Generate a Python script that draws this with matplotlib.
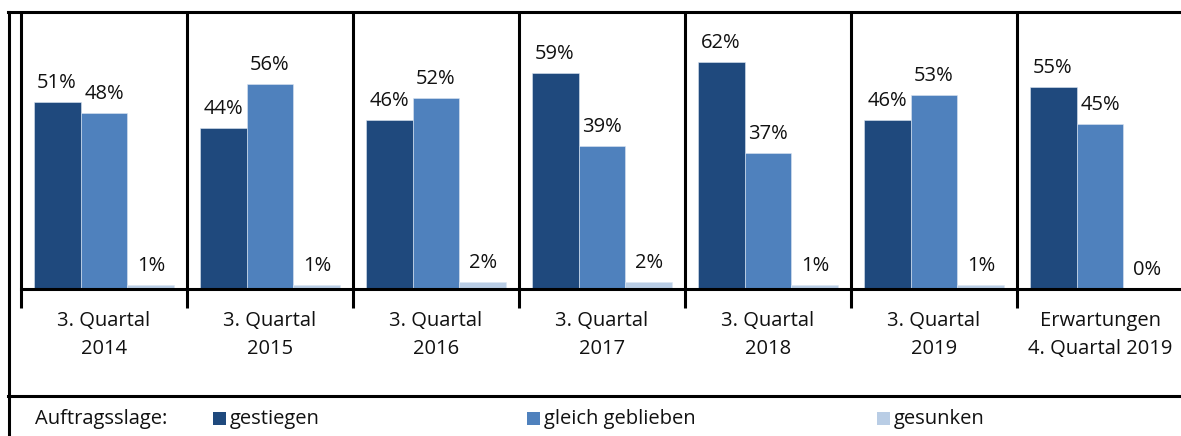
import matplotlib
matplotlib.use("Agg")
import matplotlib.pyplot as plt
from matplotlib.lines import Line2D
from matplotlib.patches import Rectangle
import numpy as np

plt.rcParams["font.family"] = ["Open Sans", "DejaVu Sans"]

categories = [
    "3. Quartal\n2014", "3. Quartal\n2015", "3. Quartal\n2016", "3. Quartal\n2017",
    "3. Quartal\n2018", "3. Quartal\n2019", "Erwartungen\n4. Quartal 2019",
]
gestiegen = [51, 44, 46, 59, 62, 46, 55]
gleich = [48, 56, 52, 39, 37, 53, 45]
gesunken = [1, 1, 2, 2, 1, 1, 0]

series_names = ["gestiegen", "gleich geblieben", "gesunken"]
COLORS = ["#1F497D", "#4F81BD", "#B9CDE5"]
FS = 14.5

W, H = 1181, 436
fig = plt.figure(figsize=(W / 100, H / 100), dpi=100)

# axes in pixel terms: left 21, right 1183, baseline 289, top 12
ax = fig.add_axes([21 / W, (H - 289) / H, (1183 - 21) / W, (289 - 12) / H])

x = np.arange(len(categories))
bw = 0.283
for i, (vals, col) in enumerate(zip([gestiegen, gleich, gesunken], COLORS)):
    pos = x + (i - 1) * bw
    ax.bar(pos, vals, width=bw, color=col, edgecolor="#DCE6F2", linewidth=0.4)
    for px, v in zip(pos, vals):
        ax.annotate(f"{v}%", (px, v), xytext=(0, 10), textcoords="offset points",
                    ha="center", va="baseline", fontsize=FS, color="#111111")

ax.set_xlim(-0.5, len(categories) - 0.5)
ax.set_ylim(0, 75.5)
ax.set_yticks([])
ax.set_xticks(x)
ax.set_xticklabels(categories, fontsize=FS, linespacing=1.55, color="#111111")
ax.tick_params(axis="x", length=0, pad=16)

for s in ["top", "right", "left"]:
    ax.spines[s].set_visible(False)
ax.spines["bottom"].set_linewidth(2.2)

# group separators, reaching below the baseline as tick marks
seps = np.arange(len(categories) + 1) - 0.5
ax.vlines(seps, -5.2, 75.5, colors="black", linewidth=2.2, clip_on=False)

# outer frame lines
fig.add_artist(Line2D([8 / W, 1], [(H - 12) / H] * 2, color="black", lw=2.2))
fig.add_artist(Line2D([9 / W] * 2, [0, (H - 12) / H], color="black", lw=2.2))
fig.add_artist(Line2D([8 / W, 1], [(H - 396) / H] * 2, color="black", lw=2.2))

# legend row
ly = (H - 419) / H
fig.text(35 / W, ly, "Auftragsslage:", fontsize=FS, va="center", color="#111111")
for name, col, sx in zip(series_names, COLORS, [213, 527, 877]):
    fig.add_artist(Rectangle((sx / W, (H - 425) / H), 13 / W, 13 / H,
                             facecolor=col, edgecolor="none"))
    fig.text((sx + 17) / W, ly, name, fontsize=FS, va="center", color="#111111")

fig.savefig("out.png", dpi=100, facecolor="white")
